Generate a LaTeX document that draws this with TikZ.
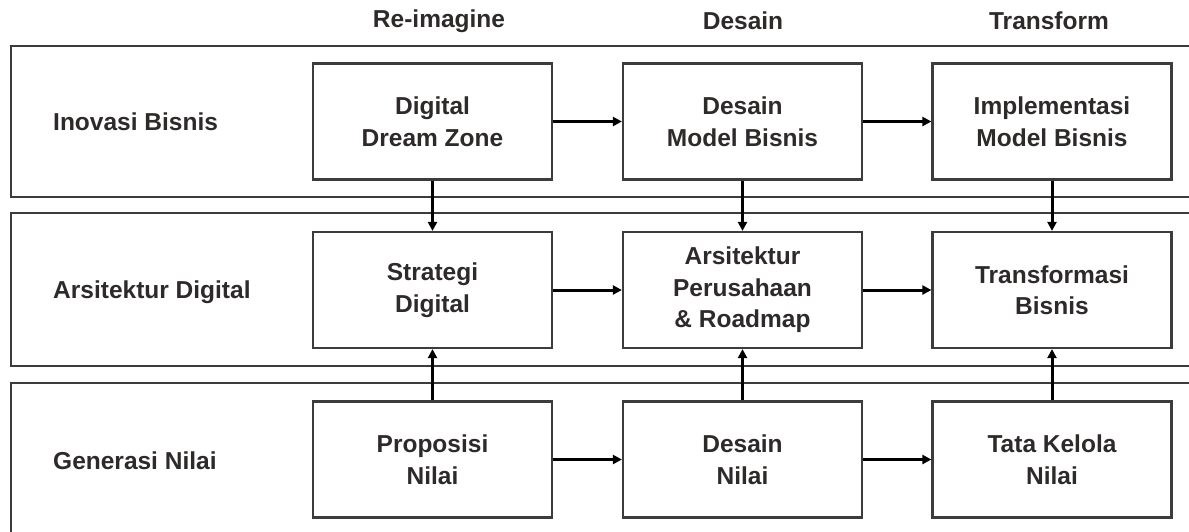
\documentclass[tikz,border=0pt]{standalone}
\usepackage{fontspec}
\setmainfont{Liberation Sans}
\usetikzlibrary{arrows.meta}
\definecolor{ink}{HTML}{2E2A2A}
\definecolor{rule}{HTML}{3C3C3C}
\begin{document}
\begin{tikzpicture}[x=1pt,y=-1pt,
  font=\fontsize{24.5}{31.5}\selectfont\bfseries,
  band/.style={draw=rule,line width=2.2pt},
  stage/.style={draw=rule,line width=2.2pt,minimum width=239pt,minimum height=116pt,
    align=center,text=ink,inner sep=0pt},
  lane/.style={text=ink,anchor=west,inner sep=0pt},
  phase/.style={text=ink,inner sep=0pt},
  flow/.style={line width=3pt,black,-{Triangle[length=9pt,width=9pt]}}]
\useasboundingbox (0,0) rectangle (1189,531);

% horizontal swim lanes, open on the right
\draw[band] (1195,46) -- (11,46) -- (11,197) -- (1195,197);
\draw[band] (1195,213) -- (11,213) -- (11,366) -- (1195,366);
\draw[band] (1195,383) -- (11,383) -- (11,540);

% phase headings
\node[phase] (h1) at (439,21) {Re-imagine};
\node[phase] (h2) at (743,21) {Desain};
\node[phase] (h3) at (1049,21) {Transform};

% lane labels
\node[lane] (l1) at (53,122) {Inovasi Bisnis};
\node[lane] (l2) at (53,292) {Arsitektur Digital};
\node[lane] (l3) at (53,461) {Generasi Nilai};

% stages
\node[stage] (a1) at (432.5,121.5) {Digital\\Dream Zone};
\node[stage] (a2) at (742.5,121.5) {Desain\\Model Bisnis};
\node[stage] (a3) at (1052,121.5) {Implementasi\\Model Bisnis};
\node[stage] (b1) at (432.5,290) {Strategi\\Digital};
\node[stage] (b2) at (742.5,290) {Arsitektur\\Perusahaan\\\& Roadmap};
\node[stage] (b3) at (1052,290) {Transformasi\\Bisnis};
\node[stage] (c1) at (432.5,459.5) {Proposisi\\Nilai};
\node[stage] (c2) at (742.5,459.5) {Desain\\Nilai};
\node[stage] (c3) at (1052,459.5) {Tata Kelola\\Nilai};

% flows along each lane
\draw[flow] (a1) -- (a2);
\draw[flow] (a2) -- (a3);
\draw[flow] (b1) -- (b2);
\draw[flow] (b2) -- (b3);
\draw[flow] (c1) -- (c2);
\draw[flow] (c2) -- (c3);

% flows into the architecture lane
\draw[flow] (a1) -- (b1);
\draw[flow] (a2) -- (b2);
\draw[flow] (a3) -- (b3);
\draw[flow] (c1) -- (b1);
\draw[flow] (c2) -- (b2);
\draw[flow] (c3) -- (b3);
\end{tikzpicture}
\end{document}
